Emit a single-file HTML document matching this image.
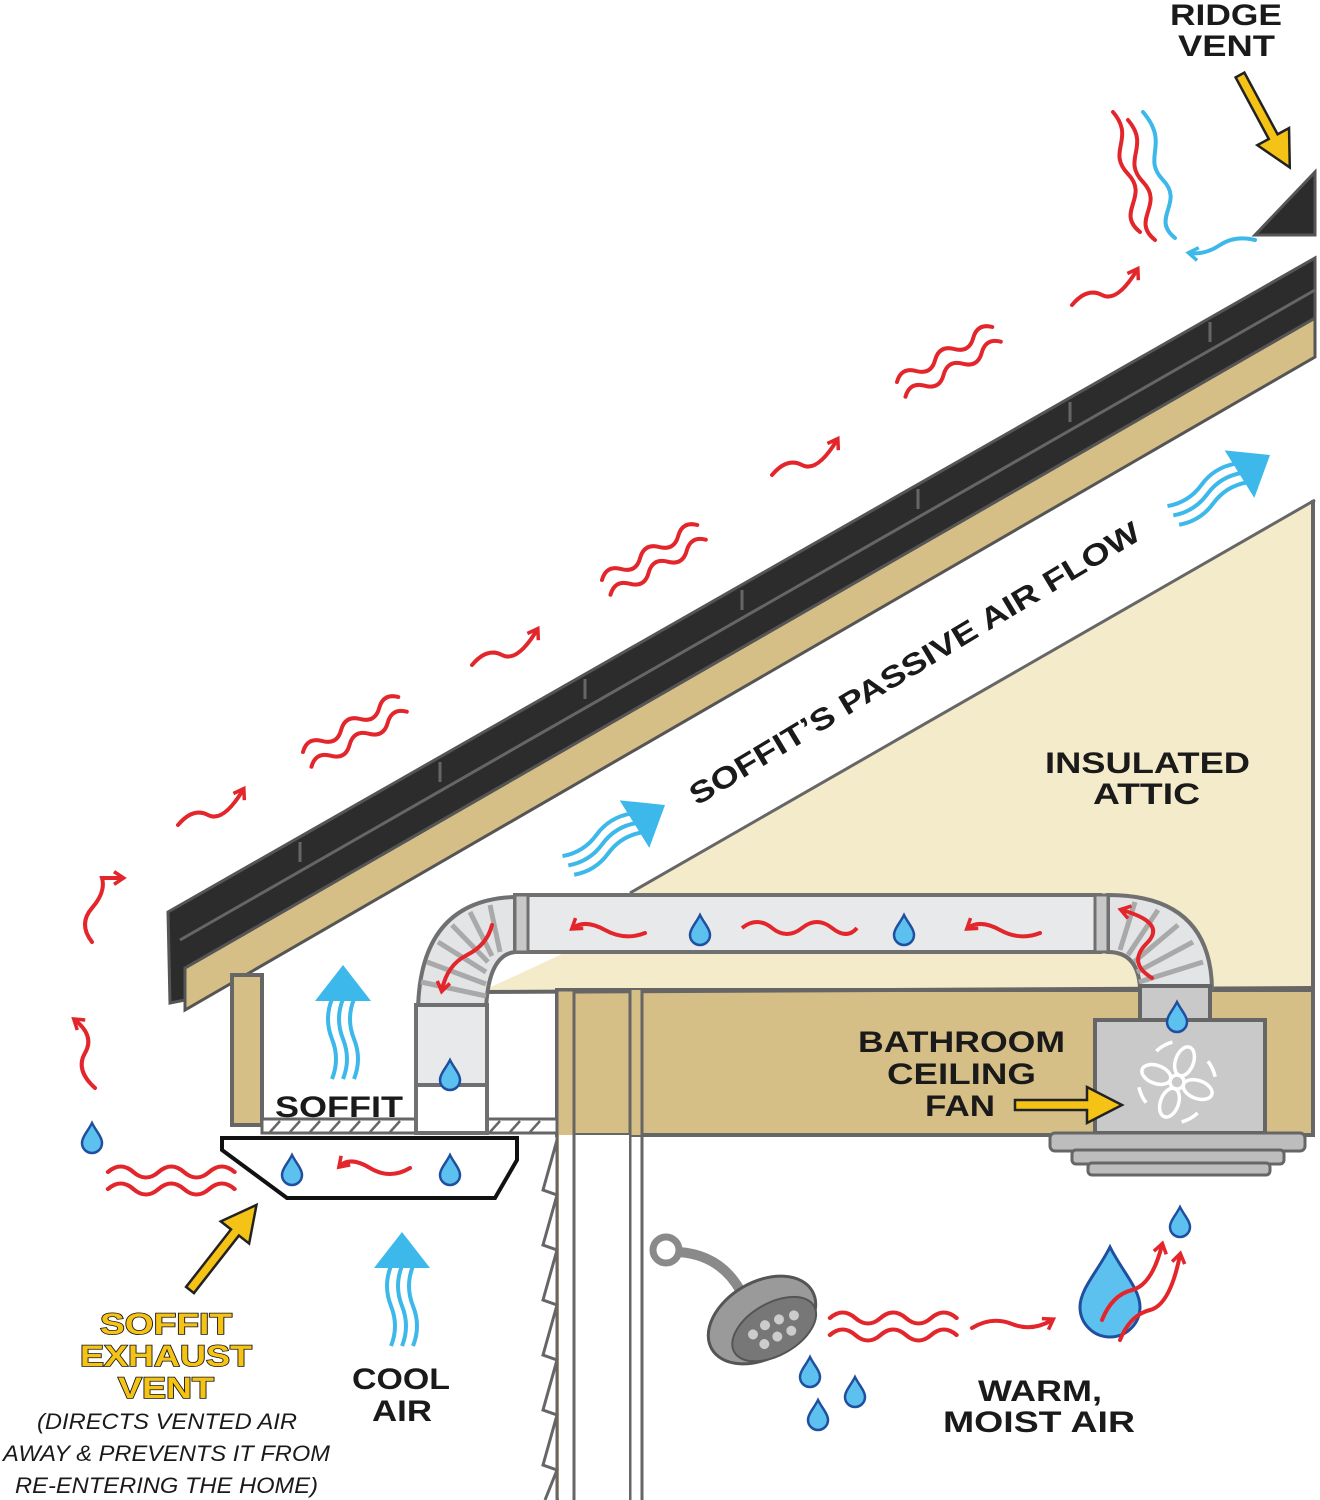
<!DOCTYPE html>
<html><head><meta charset="utf-8"><style>
html,body{margin:0;padding:0;background:#fff}
svg{display:block}
text{font-family:"Liberation Sans",Arial,sans-serif;font-weight:bold;fill:#1a1a1a}
</style></head><body>
<svg width="1320" height="1500" viewBox="0 0 1320 1500" xmlns="http://www.w3.org/2000/svg">
<defs>
<marker id="ra" viewBox="0 0 10 10" refX="6" refY="5" markerWidth="4" markerHeight="4" orient="auto"><path d="M1 1 L7 5 L1 9" fill="none" stroke="#e3262b" stroke-width="2.2"/></marker>
<marker id="ba" viewBox="0 0 10 10" refX="6" refY="5" markerWidth="4" markerHeight="4" orient="auto"><path d="M1 1 L7 5 L1 9" fill="none" stroke="#3db8ea" stroke-width="2.2"/></marker>
<g id="drop"><path d="M0 -15 C4 -7 10 -1 10 5 A10 10 0 0 1 -10 5 C-10 -1 -4 -7 0 -15Z" fill="#5dc1ef" stroke="#1f4f9e" stroke-width="2.5"/></g>
<g id="dw" fill="none" stroke="#e3262b" stroke-width="4" stroke-linecap="round"><path d="M0 0 q11 -11 22 0 t22 0 t22 0 t22 0 t22 0"/><path d="M0 17 q11 -11 22 0 t22 0 t22 0 t22 0 t22 0"/></g>
<g id="bl"><polygon points="-28,36 28,36 0,0" fill="#3db8ea"/><g fill="none" stroke="#3db8ea" stroke-width="4"><path d="M-11 34 q-8 20 0 40 t0 40"/><path d="M0 34 q-8 20 0 40 t0 40"/><path d="M11 34 q-8 20 0 40 t0 40"/></g></g>
</defs>

<polygon points="630,893 1315,500 1315,988 478,993 560,955" fill="#f4ebcb"/>
<line x1="630" y1="893" x2="1315" y2="500" stroke="#666" stroke-width="3"/>
<line x1="1313" y1="500" x2="1313" y2="1135" stroke="#666" stroke-width="4"/>
<rect x="557" y="990" width="756" height="145" fill="#d6bf86" stroke="#666" stroke-width="4"/>
<line x1="478" y1="992" x2="1313" y2="988" stroke="#666" stroke-width="4"/>
<rect x="557" y="990" width="17" height="510" fill="#d6bf86" stroke="#666" stroke-width="3"/>
<rect x="630" y="990" width="12" height="145" fill="#d6bf86"/>
<line x1="630" y1="990" x2="630" y2="1500" stroke="#666" stroke-width="3"/>
<line x1="642" y1="990" x2="642" y2="1500" stroke="#666" stroke-width="3"/>
<rect x="575" y="1135" width="54" height="365" fill="#fff"/>
<rect x="559" y="1135" width="14" height="365" fill="#fff"/>
<line x1="557" y1="1135" x2="557" y2="1500" stroke="#666" stroke-width="3"/>
<line x1="574" y1="1135" x2="574" y2="1500" stroke="#666" stroke-width="3"/>
<polyline points="557,1140 543,1190 557,1195 543,1245 557,1250 543,1300 557,1305 543,1355 557,1360 543,1410 557,1415 543,1465 557,1470 545,1500" fill="none" stroke="#666" stroke-width="3"/>

<polygon points="185,968 1315,318 1315,357 185,1010" fill="#d6bf86" stroke="#555" stroke-width="3"/>
<polygon points="168,912 1315,258 1315,318 185,968 185,1000 170,1003" fill="#2c2c2c" stroke="#555" stroke-width="3"/>
<g stroke="#666" stroke-width="3">
<line x1="180" y1="940" x2="1315" y2="290"/>
<line x1="300" y1="842" x2="300" y2="862"/><line x1="440" y1="762" x2="440" y2="782"/><line x1="585" y1="679" x2="585" y2="699"/><line x1="742" y1="590" x2="742" y2="610"/><line x1="918" y1="489" x2="918" y2="509"/><line x1="1070" y1="402" x2="1070" y2="422"/><line x1="1210" y1="322" x2="1210" y2="342"/>
</g>
<polygon points="1255,235 1315,172 1315,235" fill="#2c2c2c" stroke="#555" stroke-width="3"/>

<rect x="232" y="975" width="30" height="150" fill="#d6bf86" stroke="#666" stroke-width="4"/>
<rect x="262" y="1119" width="295" height="14" fill="#fff" stroke="#666" stroke-width="3"/>
<g stroke="#666" stroke-width="2.5">
<line x1="270" y1="1132" x2="280" y2="1121"/><line x1="290" y1="1132" x2="300" y2="1121"/><line x1="310" y1="1132" x2="320" y2="1121"/><line x1="330" y1="1132" x2="340" y2="1121"/><line x1="350" y1="1132" x2="360" y2="1121"/><line x1="370" y1="1132" x2="380" y2="1121"/><line x1="390" y1="1132" x2="400" y2="1121"/><line x1="490" y1="1132" x2="500" y2="1121"/><line x1="510" y1="1132" x2="520" y2="1121"/><line x1="530" y1="1132" x2="540" y2="1121"/>
</g>
<polygon points="222,1138 517,1138 517,1160 495,1198 287,1198 222,1150" fill="#fff" stroke="#111" stroke-width="4"/>

<path d="M515 897 Q420 900 418 1010 L486 1010 Q488 955 515 952 Z" fill="#e3e4e6" stroke="#707070" stroke-width="4"/>
<g stroke="#a9a9a9" stroke-width="5"><line x1="490" y1="905" x2="500" y2="952"/><line x1="470" y1="912" x2="492" y2="956"/><line x1="452" y1="925" x2="488" y2="962"/><line x1="438" y1="942" x2="486" y2="972"/><line x1="427" y1="962" x2="486" y2="984"/><line x1="421" y1="982" x2="486" y2="996"/></g>
<rect x="416" y="1005" width="71" height="80" fill="#e8e9eb" stroke="#707070" stroke-width="4"/>
<rect x="416" y="1085" width="71" height="48" fill="#fff" stroke="#707070" stroke-width="4"/>
<rect x="515" y="895" width="585" height="57" fill="#e8e9eb" stroke="#707070" stroke-width="4"/>
<rect x="515" y="895" width="13" height="57" fill="#c8c8c8" stroke="#707070" stroke-width="3"/>
<path d="M1108 895 Q1210 895 1212 988 L1140 988 Q1138 952 1108 952 Z" fill="#e3e4e6" stroke="#707070" stroke-width="4"/>
<g stroke="#a9a9a9" stroke-width="5"><line x1="1135" y1="902" x2="1120" y2="950"/><line x1="1158" y1="910" x2="1128" y2="955"/><line x1="1178" y1="925" x2="1134" y2="962"/><line x1="1193" y1="942" x2="1137" y2="972"/><line x1="1203" y1="962" x2="1139" y2="982"/></g>
<rect x="1095" y="895" width="13" height="57" fill="#c8c8c8" stroke="#707070" stroke-width="3"/>
<rect x="1140" y="986" width="70" height="36" fill="#c9c9ca" stroke="#666" stroke-width="4"/>
<rect x="1095" y="1020" width="170" height="113" fill="#c9c9ca" stroke="#666" stroke-width="4"/>
<rect x="1050" y="1133" width="255" height="18" rx="5" fill="#bdbdbe" stroke="#666" stroke-width="3"/>
<rect x="1072" y="1150" width="212" height="14" rx="4" fill="#bdbdbe" stroke="#666" stroke-width="3"/>
<rect x="1088" y="1163" width="182" height="12" rx="4" fill="#bdbdbe" stroke="#666" stroke-width="3"/>
<g fill="none" stroke="#fff" stroke-width="3.5" transform="translate(1177,1082) rotate(20)">
<circle cx="0" cy="0" r="7"/>
<ellipse cx="0" cy="-22" rx="9" ry="15"/><ellipse cx="0" cy="22" rx="9" ry="15"/><ellipse cx="-22" cy="0" rx="15" ry="9"/><ellipse cx="22" cy="0" rx="15" ry="9"/>
<path d="M-30 -22 a38 38 0 0 1 12 -14"/><path d="M30 22 a38 38 0 0 1 -12 14"/><path d="M22 -30 a38 38 0 0 1 12 12"/><path d="M-22 30 a38 38 0 0 1 -12 -12"/>
</g>

<circle cx="666" cy="1250" r="13" fill="none" stroke="#8a8a8a" stroke-width="7"/>
<path d="M679 1252 Q720 1255 740 1290" stroke="#8a8a8a" stroke-width="10" fill="none"/>
<g transform="translate(762,1320) rotate(-30)">
<ellipse cx="0" cy="0" rx="58" ry="38" fill="#9a9a9a" stroke="#555" stroke-width="3"/>
<ellipse cx="6" cy="14" rx="46" ry="26" fill="#777" stroke="#555" stroke-width="2"/>
<g fill="#ccc"><circle cx="-15" cy="8" r="5"/><circle cx="0" cy="6" r="5"/><circle cx="15" cy="8" r="5"/><circle cx="30" cy="12" r="5"/><circle cx="-10" cy="22" r="5"/><circle cx="5" cy="22" r="5"/><circle cx="20" cy="24" r="5"/></g>
</g>

<use href="#drop" x="92" y="1138"/><use href="#drop" x="292" y="1170"/><use href="#drop" x="450" y="1170"/><use href="#drop" x="450" y="1075"/><use href="#drop" x="700" y="930"/><use href="#drop" x="904" y="930"/><use href="#drop" x="1177" y="1017"/><use href="#drop" x="1180" y="1222"/><use href="#drop" x="810" y="1372"/><use href="#drop" x="855" y="1392"/><use href="#drop" x="818" y="1415"/>
<g transform="translate(1110,1292) scale(3)"><path d="M0 -15 C4 -7 10 -1 10 5 A10 10 0 0 1 -10 5 C-10 -1 -4 -7 0 -15Z" fill="#5dc1ef" stroke="#1f4f9e" stroke-width="1"/></g>

<use href="#dw" transform="translate(303,752) rotate(-30)"/>
<use href="#dw" transform="translate(602,580) rotate(-30)"/>
<use href="#dw" transform="translate(897,382) rotate(-30)"/>
<use href="#dw" transform="translate(108,1172) scale(1.15,1)"/>
<use href="#dw" transform="translate(830,1318) scale(1.15,1)"/>
<g fill="none" stroke="#e3262b" stroke-width="4" stroke-linecap="round" marker-end="url(#ra)">
<path d="M92 942 q-14 -18 0 -34 t10 -30 l20 0"/>
<path d="M178 825 q15 -18 30 -10 t35 -25"/>
<path d="M472 665 q15 -18 30 -10 t35 -25"/>
<path d="M772 475 q15 -18 30 -10 t35 -25"/>
<path d="M1072 305 q15 -18 30 -10 t35 -25"/>
<path d="M95 1088 q-20 -18 -10 -35 t-10 -33"/>
<path d="M972 1328 q20 -12 40 -4 t40 -4"/>
<path d="M410 1168 q-20 12 -40 0 t-30 -2"/>
<path d="M645 933 q-20 8 -40 -3 t-32 -2"/>
<path d="M1040 933 q-20 8 -40 -3 t-32 -2"/>
<path d="M492 925 q-5 20 -25 30 t-25 35"/>
<path d="M1152 978 q-25 -15 -5 -35 t-25 -33"/>
<path d="M1102 1320 q10 -25 30 -30 t30 -45"/>
<path d="M1120 1340 q10 -25 30 -30 t30 -55"/>
</g>
<path d="M742 928 q15 -12 30 0 t30 0 t30 0 t25 0" fill="none" stroke="#e3262b" stroke-width="4"/>
<g fill="none" stroke-width="4" stroke-linecap="round">
<path d="M1155 240 c-25 -20 10 -35 -12 -58 s 8 -35 -15 -62" stroke="#e3262b"/>
<path d="M1140 232 c-25 -20 10 -35 -12 -58 s 8 -35 -15 -62" stroke="#e3262b"/>
<path d="M1175 238 c-25 -20 10 -35 -12 -58 s 8 -35 -20 -68" stroke="#3db8ea"/>
<path d="M1255 240 q-20 -5 -35 5 t-30 8" stroke="#3db8ea" marker-end="url(#ba)"/>
</g>

<use href="#bl" transform="translate(343,965)"/>
<use href="#bl" transform="translate(402,1232)"/>
<use href="#bl" transform="translate(665,805) rotate(58)"/>
<use href="#bl" transform="translate(1270,455) rotate(58)"/>

<g fill="#f5c316" stroke="#222" stroke-width="2.5">
<path transform="translate(1015,1105)" d="M0 -5 L72 -5 L72 -18 L107 0 L72 18 L72 5 L0 5 Z"/>
<path transform="translate(1240,75) rotate(61.7)" d="M0 -5 L70 -5 L70 -18 L105 0 L70 18 L70 5 L0 5 Z"/>
<path transform="translate(190,1290) rotate(-52)" d="M0 -5 L73 -5 L73 -18 L108 0 L73 18 L73 5 L0 5 Z"/>
</g>

<g font-size="30">
<text x="1170" y="25" textLength="112" lengthAdjust="spacingAndGlyphs">RIDGE</text>
<text x="1178" y="56" textLength="97" lengthAdjust="spacingAndGlyphs">VENT</text>
<text x="1045" y="773" textLength="205" lengthAdjust="spacingAndGlyphs">INSULATED</text>
<text x="1093" y="804" textLength="107" lengthAdjust="spacingAndGlyphs">ATTIC</text>
<text x="858" y="1052" textLength="207" lengthAdjust="spacingAndGlyphs">BATHROOM</text>
<text x="887" y="1084" textLength="149" lengthAdjust="spacingAndGlyphs">CEILING</text>
<text x="925" y="1116" textLength="70" lengthAdjust="spacingAndGlyphs">FAN</text>
<text x="275" y="1117" textLength="128" lengthAdjust="spacingAndGlyphs">SOFFIT</text>
<text x="352" y="1389" textLength="98" lengthAdjust="spacingAndGlyphs">COOL</text>
<text x="372" y="1421" textLength="60" lengthAdjust="spacingAndGlyphs">AIR</text>
<text x="978" y="1401" textLength="124" lengthAdjust="spacingAndGlyphs">WARM,</text>
<text x="943" y="1432" textLength="192" lengthAdjust="spacingAndGlyphs">MOIST AIR</text>
<text transform="translate(697,806) rotate(-31)" textLength="520" lengthAdjust="spacingAndGlyphs">SOFFIT’S PASSIVE AIR FLOW</text>
</g>
<g font-size="30" style="stroke:#111;stroke-width:1.5;paint-order:stroke">
<text x="100" y="1334" textLength="132" lengthAdjust="spacingAndGlyphs" style="fill:#f5c316">SOFFIT</text>
<text x="80" y="1366" textLength="172" lengthAdjust="spacingAndGlyphs" style="fill:#f5c316">EXHAUST</text>
<text x="118" y="1398" textLength="96" lengthAdjust="spacingAndGlyphs" style="fill:#f5c316">VENT</text>
</g>
<g font-size="22" style="font-style:italic">
<text x="37" y="1429" textLength="260" lengthAdjust="spacingAndGlyphs" style="font-weight:normal">(DIRECTS VENTED AIR</text>
<text x="3" y="1461" textLength="327" lengthAdjust="spacingAndGlyphs" style="font-weight:normal">AWAY &amp; PREVENTS IT FROM</text>
<text x="15" y="1493" textLength="303" lengthAdjust="spacingAndGlyphs" style="font-weight:normal">RE-ENTERING THE HOME)</text>
</g>
</svg>
</body></html>
